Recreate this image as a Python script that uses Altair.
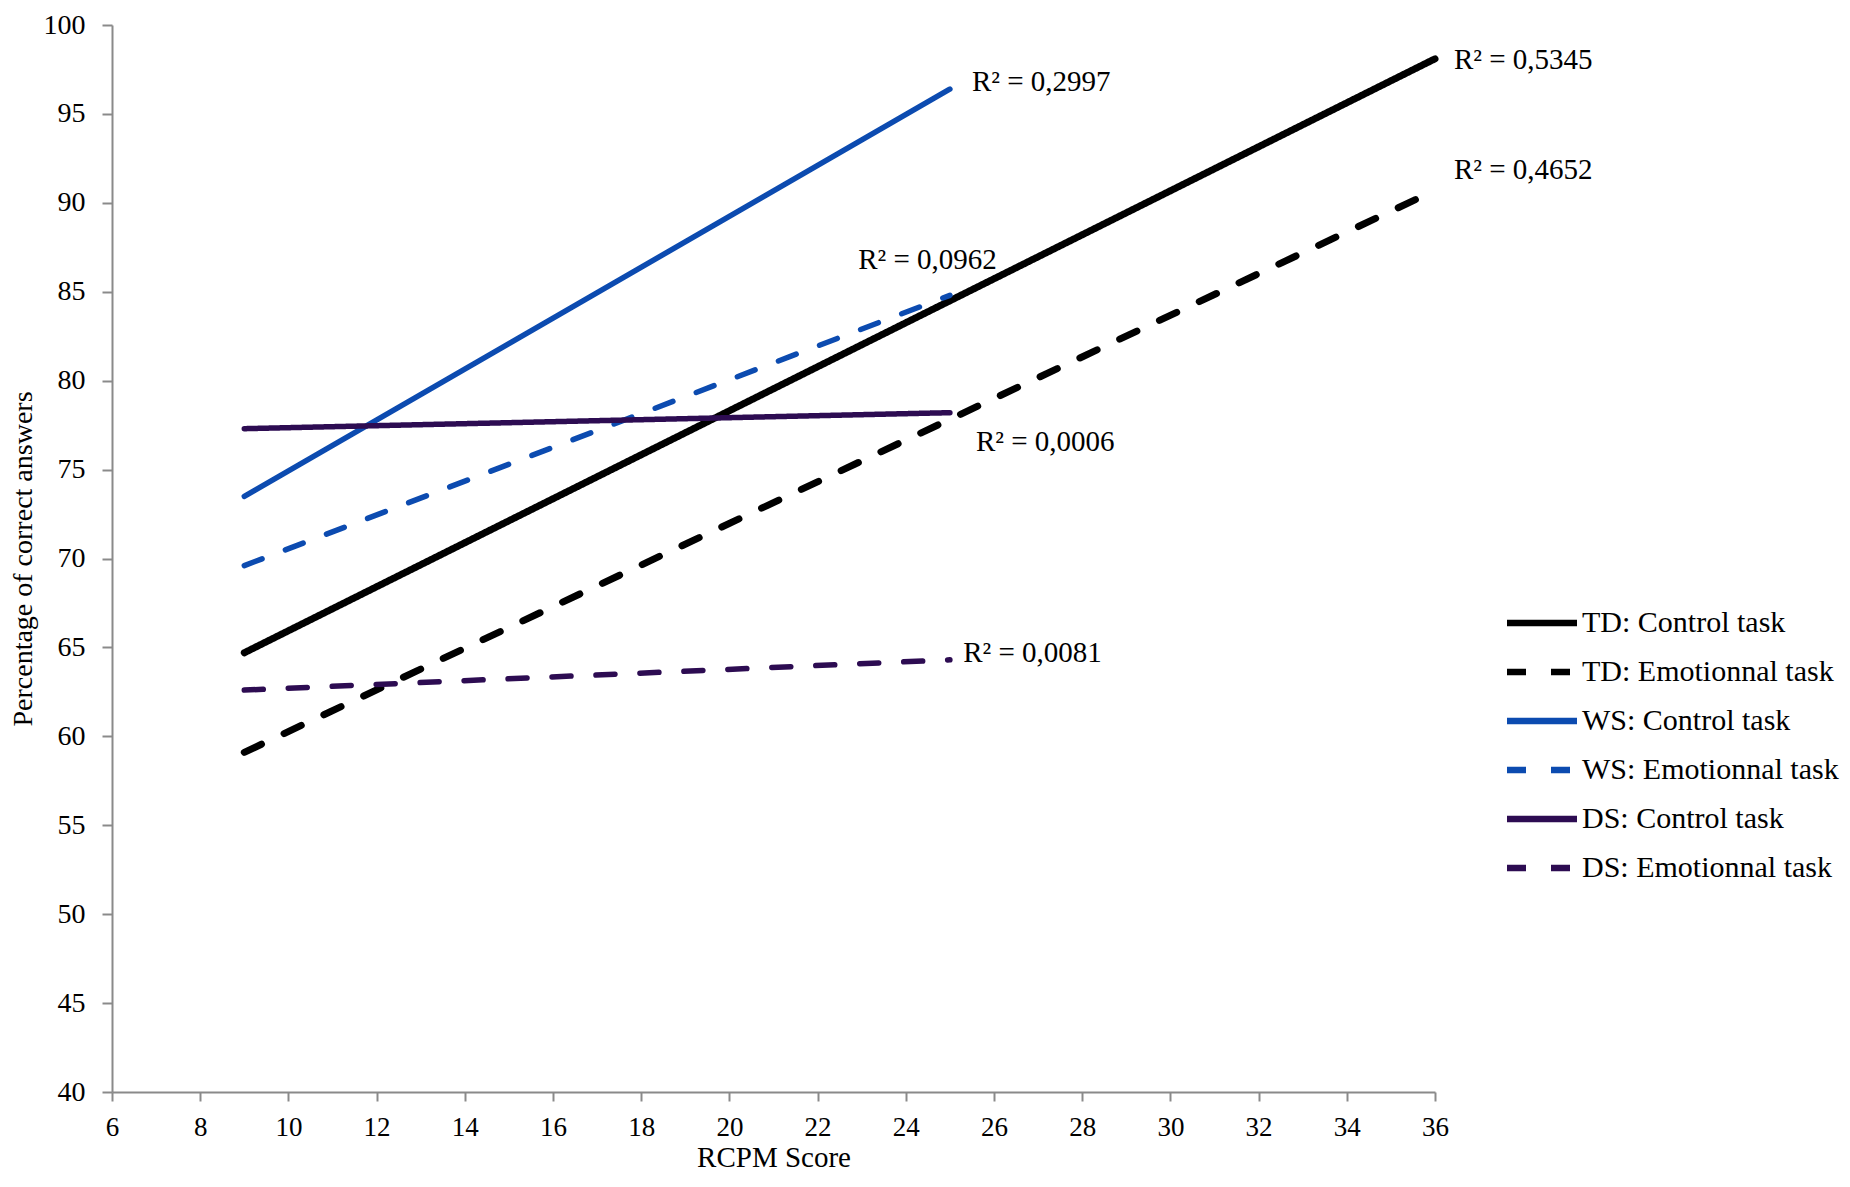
import altair as alt
import pandas as pd

# ---- data ----
series = [
    "TD: Control task",
    "TD: Emotionnal task",
    "WS: Control task",
    "WS: Emotionnal task",
    "DS: Control task",
    "DS: Emotionnal task",
]
x_start = [9, 9, 9, 9, 9, 9]
x_end = [36, 36, 25, 25, 25, 25]
y_start = [64.7, 59.1, 73.5, 69.6, 77.3, 62.6]
y_end = [98.1, 90.7, 96.4, 84.8, 78.2, 64.3]

r2_labels = ["R² = 0,5345", "R² = 0,4652", "R² = 0,2997", "R² = 0,0962", "R² = 0,0006", "R² = 0,0081"]
r2_x = [36.43, 36.43, 25.5, 22.92, 25.59, 25.3]
r2_y = [98.05, 91.82, 96.79, 86.77, 76.57, 64.67]

x_ticks = [6, 8, 10, 12, 14, 16, 18, 20, 22, 24, 26, 28, 30, 32, 34, 36]
y_ticks = [40, 45, 50, 55, 60, 65, 70, 75, 80, 85, 90, 95, 100]

series_colors = ["#000000", "#000000", "#0c4bb0", "#0c4bb0", "#2d0c52", "#2d0c52"]
series_dashes = [[1, 0], [19, 25], [1, 0], [19, 25], [1, 0], [19, 25]]

# ---- tables ----
rows = []
for s, x0, x1, y0, y1 in zip(series, x_start, x_end, y_start, y_end):
    rows.append({"series": s, "group": s[:2], "x": x0, "y": y0})
    rows.append({"series": s, "group": s[:2], "x": x1, "y": y1})
lines_df = pd.DataFrame(rows)
labels_df = pd.DataFrame({"label": r2_labels, "x": r2_x, "y": r2_y})

FONT = "Liberation Serif"
GREY = "#8a8a8a"

x_enc = alt.X(
    "x:Q",
    scale=alt.Scale(domain=[6, 36], nice=False, zero=False),
    axis=alt.Axis(
        values=x_ticks, title="RCPM Score", grid=False,
        labelFont=FONT, labelFontSize=27, labelColor="black", labelPadding=13,
        tickSize=9, tickColor=GREY, tickWidth=2, domainColor=GREY, domainWidth=2,
        titleFont=FONT, titleFontSize=29, titleFontWeight="normal", titleColor="black",
        titlePadding=3, labelFlush=False,
    ),
)
y_enc = alt.Y(
    "y:Q",
    scale=alt.Scale(domain=[40, 100], nice=False, zero=False),
    axis=alt.Axis(
        values=y_ticks, title="Percentage of correct answers", grid=False,
        labelFont=FONT, labelFontSize=28, labelColor="black", labelPadding=17,
        tickSize=10, tickColor=GREY, tickWidth=2, domainColor=GREY, domainWidth=2,
        titleFont=FONT, titleFontSize=28, titleFontWeight="normal", titleColor="black",
        titlePadding=6, labelFlush=False,
    ),
)

legend = alt.Legend(
    title=None, orient="none", legendX=1415, legendY=583, direction="vertical",
    symbolType="M-3.5,0H3.5", symbolSize=400, symbolStrokeWidth=6.5,
    labelFont=FONT, labelFontSize=30, labelColor="black", labelOffset=25,
    rowPadding=19, padding=0, labelLimit=500,
)

lines = alt.Chart(lines_df).mark_line(strokeCap="round").encode(
    x=x_enc,
    y=y_enc,
    color=alt.Color("series:N", scale=alt.Scale(domain=series, range=series_colors), legend=legend),
    strokeDash=alt.StrokeDash("series:N", scale=alt.Scale(domain=series, range=series_dashes), legend=legend),
    strokeWidth=alt.condition(alt.datum.group == "TD", alt.value(7), alt.value(5.5)),
)

texts = alt.Chart(labels_df).mark_text(
    align="left", baseline="middle", font=FONT, fontSize=29, color="black"
).encode(x=x_enc, y=y_enc, text="label:N")

chart = (
    alt.layer(lines, texts)
    .properties(
        width=1323,
        height=1067,
        autosize=alt.AutoSizeParams(type="none"),
        padding={"left": 104, "top": 17, "right": 407, "bottom": 84},
        background="white",
    )
    .configure_view(stroke=None)
)

chart.save("out.html", embed_options={"renderer": "svg", "actions": False})
